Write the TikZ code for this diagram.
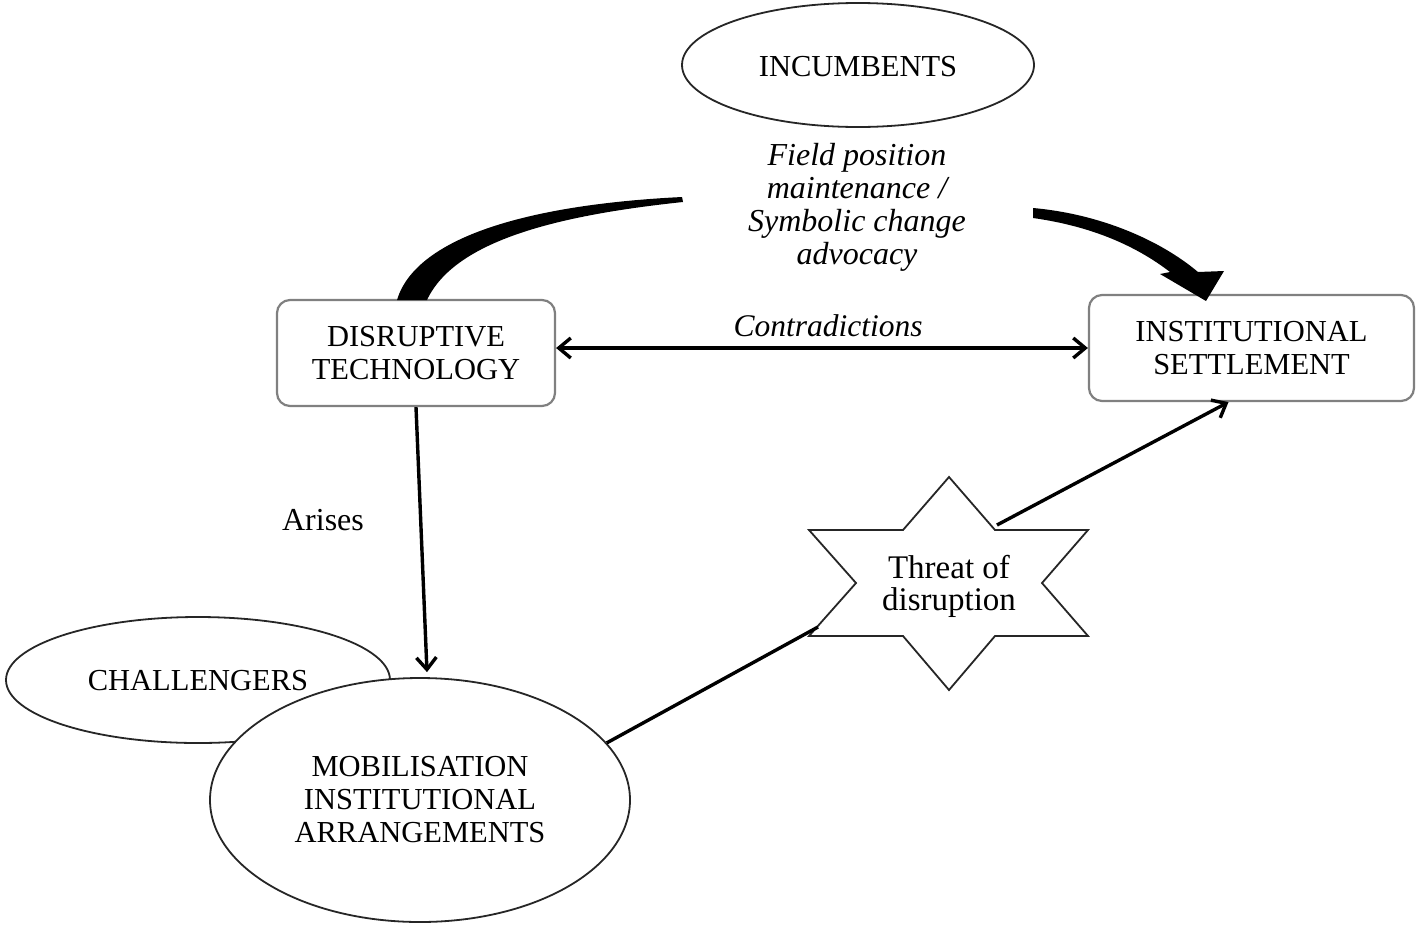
\documentclass[tikz,border=0pt]{standalone}
\usepackage{fontspec}
\setmainfont{Liberation Serif}
\usetikzlibrary{shapes.geometric,arrows.meta,calc}
\begin{document}
\begin{tikzpicture}[x=1pt,y=-1pt,
  boxtext/.style={font=\fontsize{30.5}{33}\selectfont, align=center},
  rbox/.style={draw=black!50, line width=2.2pt, rounded corners=13pt, fill=white, inner sep=0pt, boxtext},
  ell/.style={draw=black!85, line width=1.8pt, ellipse, fill=white, inner sep=0pt, boxtext},
  lab/.style={font=\fontsize{32}{33}\selectfont\itshape, align=center},
  conn/.style={line width=3.4pt, draw=black},
  tip/.style={-{Straight Barb[length=12pt,width=20pt,line width=3.4pt]}}
]
\useasboundingbox (0,0) rectangle (1416,927);

% nodes
\node[ell, minimum width=352pt, minimum height=124pt] (inc) at (858,65) {};
\node[boxtext] (incl) at (858,67) {INCUMBENTS};
\node[rbox, minimum width=278pt, minimum height=106pt] (dt) at (416,353) {DISRUPTIVE\\TECHNOLOGY};
\node[rbox, minimum width=325pt, minimum height=106pt] (is) at (1251.5,348) {INSTITUTIONAL\\SETTLEMENT};
\node[ell, minimum width=384pt, minimum height=126pt] (ch) at (198,680) {};
\node[boxtext] (chl) at (198,681) {CHALLENGERS};
\node[ell, minimum width=420pt, minimum height=244pt] (mob) at (420,800) {MOBILISATION\\INSTITUTIONAL\\ARRANGEMENTS};

% star
\draw[line width=1.8pt, draw=black!85, fill=white, line join=miter]
  (949,477) -- (995,530) -- (1088,530) -- (1042,583) -- (1088,636) -- (995,636)
  -- (949,690) -- (903,636) -- (809,636) -- (856,583) -- (809,530) -- (903,530) -- cycle;
\node[font=\fontsize{33}{32}\selectfont, align=center] (thr) at (949,586) {Threat of\\disruption};
\coordinate (sA) at (818,627);
\coordinate (sB) at (997,525);

% labels
\node[lab] (fp) at (857,207) {Field position\\maintenance /\\Symbolic change\\advocacy};
\node[font=\fontsize{31.5}{33}\selectfont\itshape] (con) at (828,326) {Contradictions};
\node[font=\fontsize{32}{33}\selectfont] (ari) at (323,520) {Arises};

% connectors
\draw[conn, {Straight Barb[length=12pt,width=20pt,line width=3.4pt]}-{Straight Barb[length=12pt,width=20pt,line width=3.4pt]}] (dt.east|-is.west) -- (is.west);
\draw[conn, tip] (dt.south) -- ([xshift=7pt,yshift=5pt]mob.north);
\draw[conn] (mob.17) -- (sA);
\draw[conn, tip] (sB) -- ([xshift=-23pt]is.south);

% thick curved strokes
\fill[black] (397,300) .. controls (415,240) and (520,205) .. (682,197)
  -- (683,202) .. controls (560,215) and (455,240) .. (427,300) -- cycle;
\fill[black] (1033,208) .. controls (1100,214) and (1160,240) .. (1198,272)
  -- (1224,271) -- (1206,301) -- (1160,274) -- (1170,272)
  .. controls (1135,245) and (1090,226) .. (1033,218) -- cycle;
\end{tikzpicture}
\end{document}
